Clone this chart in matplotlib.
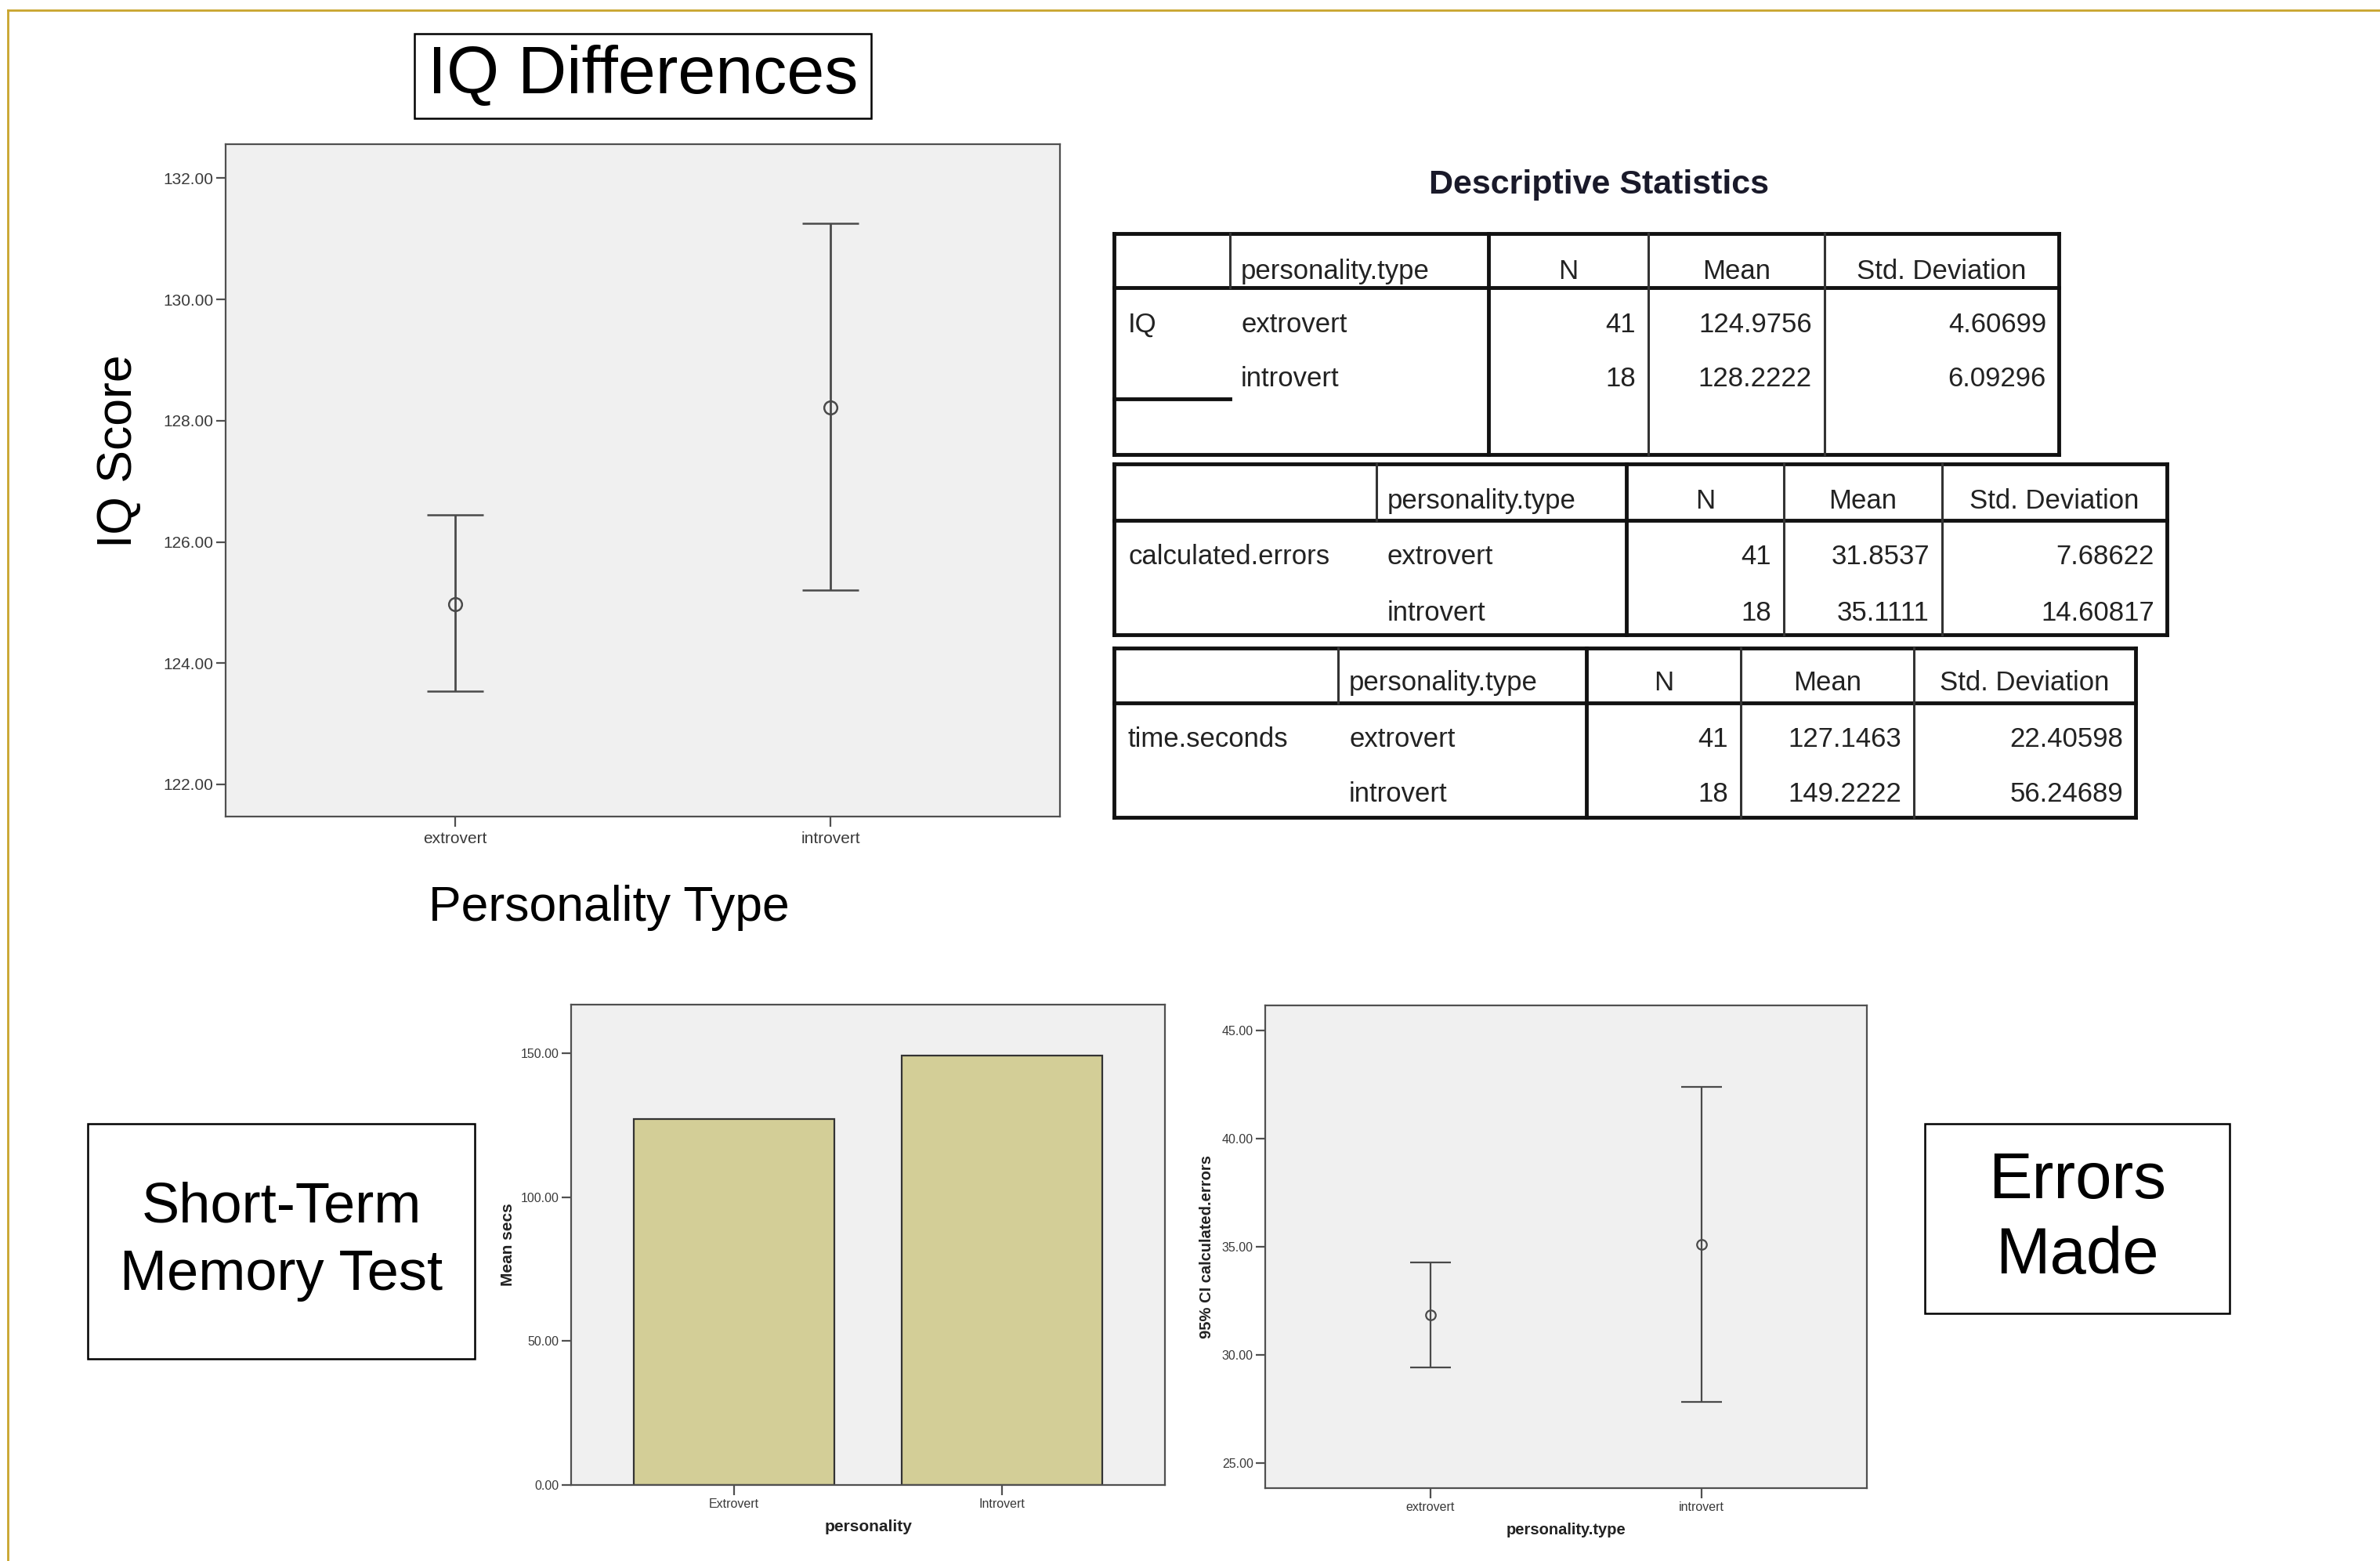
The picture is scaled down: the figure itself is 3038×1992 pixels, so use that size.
import matplotlib
matplotlib.use('Agg')
import matplotlib.pyplot as plt
from matplotlib.patches import Rectangle

plt.rcParams['font.family'] = ['Liberation Sans', 'DejaVu Sans']

W, H = 3038, 1992

# ---- data ----
iq_groups = ['extrovert', 'introvert']
iq_mean = [124.9756, 128.2222]
iq_ci_low = [123.54, 125.20]
iq_ci_high = [126.45, 131.26]
iq_ticks = [122, 124, 126, 128, 130, 132]

time_groups = ['Extrovert', 'Introvert']
time_mean = [127.1463, 149.2222]
time_ticks = [0, 50, 100, 150]

err_groups = ['extrovert', 'introvert']
err_mean = [31.8537, 35.1111]
err_ci_low = [29.43, 27.83]
err_ci_high = [34.28, 42.39]
err_ticks = [25, 30, 35, 40, 45]

tab_vars = ['IQ', 'calculated.errors', 'time.seconds']
tab_groups = ['extrovert', 'introvert']
tab_n = [['41', '18'], ['41', '18'], ['41', '18']]
tab_mean = [['124.9756', '128.2222'], ['31.8537', '35.1111'], ['127.1463', '149.2222']]
tab_sd = [['4.60699', '6.09296'], ['7.68622', '14.60817'], ['22.40598', '56.24689']]
tab_head = ['personality.type', 'N', 'Mean', 'Std. Deviation']


def rect(x0, y0, x1, y1):
    return [x0 / W, 1 - y1 / H, (x1 - x0) / W, (y1 - y0) / H]


fig = plt.figure(figsize=(W / 100, H / 100), dpi=100)
fig.patch.set_facecolor('white')

# overlay in pixel coordinates for slide decorations and tables
ov = fig.add_axes([0, 0, 1, 1])
ov.set_xlim(0, W)
ov.set_ylim(H, 0)
ov.axis('off')

gold = '#C9A52E'
ov.plot([10, W], [13, 13], color=gold, lw=2)
ov.plot([10, 10], [13, H], color=gold, lw=2)


def text_box(x0, y0, x1, y1, txt, size, ls=1.0):
    ov.add_patch(Rectangle((x0, y0), x1 - x0, y1 - y0, fill=False, ec='black', lw=1.8))
    ov.text((x0 + x1) / 2, (y0 + y1) / 2, txt, fontsize=size, ha='center', va='center',
            linespacing=ls, color='black')


text_box(529, 43, 1112, 151, 'IQ Differences', 62)
text_box(112, 1434, 606, 1734, 'Short-Term\nMemory Test', 52, 1.38)
text_box(2457, 1434, 2846, 1676, 'Errors\nMade', 60, 1.3)


def spss_axes(ax, tick_size, xpad):
    ax.set_facecolor('#F0F0F0')
    for s in ax.spines.values():
        s.set_color('#505050')
        s.set_linewidth(1.6)
    ax.tick_params(direction='out', length=9, width=1.6, color='#505050',
                   labelsize=tick_size, labelcolor='#3a3a3a', pad=2)
    ax.tick_params(axis='x', pad=xpad)


# ---- top chart: IQ ----
ax1 = fig.add_axes(rect(288, 184, 1353, 1042))
spss_axes(ax1, 15, 5)
x = list(range(len(iq_groups)))
yerr = [[m - lo for m, lo in zip(iq_mean, iq_ci_low)], [hi - m for m, hi in zip(iq_mean, iq_ci_high)]]
ax1.errorbar(x, iq_mean, yerr=yerr, fmt='o', color='#4a4a4a', mfc='none', mec='#4a4a4a',
             ms=12, mew=1.8, elinewidth=2, capsize=25.7, capthick=2)
ax1.set_xlim(-0.61, 1.61)
ax1.set_ylim(121.47, 132.56)
ax1.set_xticks(x)
ax1.set_xticklabels(iq_groups)
ax1.set_yticks(iq_ticks)
ax1.set_yticklabels(['%.2f' % t for t in iq_ticks])
fig.text(152 / W, 1 - 576 / H, 'IQ Score', fontsize=45, rotation=90, ha='center', va='center')
fig.text(777 / W, 1 - 1159 / H, 'Personality Type', fontsize=45, ha='center', va='center')

# ---- bottom-left chart: time ----
ax2 = fig.add_axes(rect(729, 1282, 1487, 1895))
spss_axes(ax2, 11.5, 3)
x = list(range(len(time_groups)))
ax2.bar(x, time_mean, width=0.75, color='#D3CE97', edgecolor='#333333', linewidth=1.6)
ax2.set_xlim(-0.61, 1.61)
ax2.set_ylim(0, 166.9)
ax2.set_xticks(x)
ax2.set_xticklabels(time_groups)
ax2.set_yticks(time_ticks)
ax2.set_yticklabels(['%.2f' % t for t in time_ticks])
fig.text(649 / W, 1 - 1588 / H, 'Mean secs', fontsize=15, fontweight='bold', rotation=90,
         ha='center', va='center', color='#222222')
fig.text(1109 / W, 1 - 1948 / H, 'personality', fontsize=15, fontweight='bold',
         ha='center', va='center', color='#222222')

# ---- bottom-right chart: errors ----
ax3 = fig.add_axes(rect(1615, 1283, 2383, 1899))
spss_axes(ax3, 11.5, 3)
x = list(range(len(err_groups)))
yerr = [[m - lo for m, lo in zip(err_mean, err_ci_low)], [hi - m for m, hi in zip(err_mean, err_ci_high)]]
ax3.errorbar(x, err_mean, yerr=yerr, fmt='o', color='#4a4a4a', mfc='none', mec='#4a4a4a',
             ms=9, mew=1.6, elinewidth=1.6, capsize=18.8, capthick=1.6)
ax3.set_xlim(-0.61, 1.61)
ax3.set_ylim(23.86, 46.14)
ax3.set_xticks(x)
ax3.set_xticklabels(err_groups)
ax3.set_yticks(err_ticks)
ax3.set_yticklabels(['%.2f' % t for t in err_ticks])
fig.text(1541 / W, 1 - 1591 / H, '95% CI calculated.errors', fontsize=14.5, fontweight='bold',
         rotation=90, ha='center', va='center', color='#222222')
fig.text(1999 / W, 1 - 1952 / H, 'personality.type', fontsize=14.5, fontweight='bold',
         ha='center', va='center', color='#222222')

# ---- descriptive statistics tables ----
ov.text(2041, 236, 'Descriptive Statistics', fontsize=31, fontweight='bold',
        ha='center', va='center', color='#1a1a2a')

tables = [
    dict(left=1422, right=2628, top=298, hb=367, bottom=580, c1=1570,
         cols=[1900, 2104, 2329], hy=343, rows=[411, 480], extra=509),
    dict(left=1422, right=2766, top=592, hb=664, bottom=810, c1=1757,
         cols=[2076, 2277, 2479], hy=636, rows=[707, 779], extra=None),
    dict(left=1422, right=2726, top=827, hb=897, bottom=1043, c1=1708,
         cols=[2025, 2222, 2443], hy=868, rows=[940, 1010], extra=None),
]

tc = '#222222'
fs = 25
for i, t in enumerate(tables):
    L, R, T, HB, B = t['left'], t['right'], t['top'], t['hb'], t['bottom']
    thick = dict(color='#111111', lw=3.5, solid_capstyle='projecting')
    thin = dict(color='#333333', lw=2.2)
    ov.plot([L, R], [T, T], **thick)
    ov.plot([L, R], [B, B], **thick)
    ov.plot([L, R], [HB, HB], **thick)
    ov.plot([L, L], [T, B], **thick)
    ov.plot([R, R], [T, B], **thick)
    ov.plot([t['c1'], t['c1']], [T, HB], **thin)
    for k, c in enumerate(t['cols']):
        ov.plot([c, c], [T, B], **(thick if k == 0 else thin))
    if t['extra'] is not None:
        ov.plot([L, t['c1']], [t['extra'], t['extra']], **thick)

    edges = t['cols'] + [R]
    ov.text(t['c1'] + 14, t['hy'], tab_head[0], fontsize=fs, ha='left', va='center_baseline', color=tc)
    for k in range(3):
        ov.text((edges[k] + edges[k + 1]) / 2, t['hy'], tab_head[k + 1], fontsize=fs,
                ha='center', va='center_baseline', color=tc)
    ov.text(L + 18, t['rows'][0], tab_vars[i], fontsize=fs, ha='left', va='center_baseline', color=tc)
    for r, y in enumerate(t['rows']):
        ov.text(t['c1'] + 14, y, tab_groups[r], fontsize=fs, ha='left', va='center_baseline', color=tc)
        vals = [tab_n[i][r], tab_mean[i][r], tab_sd[i][r]]
        for k, v in enumerate(vals):
            ov.text(edges[k + 1] - 16, y, v, fontsize=fs, ha='right', va='center_baseline', color=tc)

fig.savefig('out.png', dpi=100, facecolor='white')
